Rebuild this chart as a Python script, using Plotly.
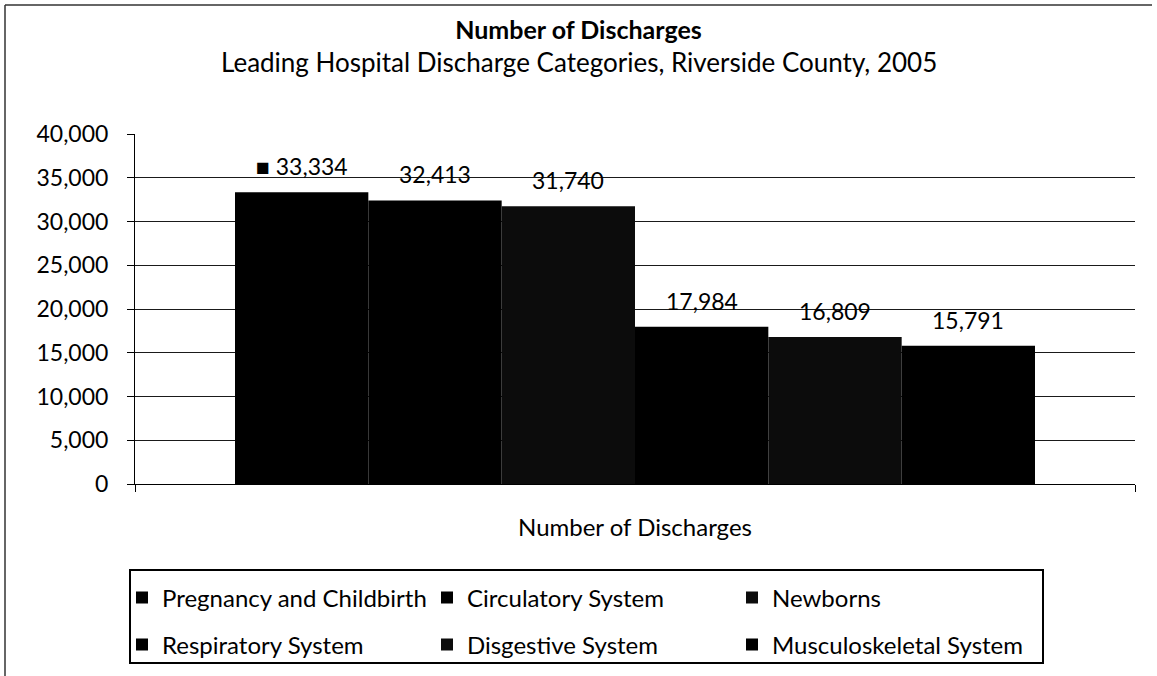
import plotly.graph_objects as go

# Data
categories = ["Number of Discharges"]
series_names = [
    "Pregnancy and Childbirth",
    "Circulatory System",
    "Newborns",
    "Respiratory System",
    "Disgestive System",
    "Musculoskeletal System",
]
discharges = [33334, 32413, 31740, 17984, 16809, 15791]
bar_colors = ["#000000", "#000000", "#0c0c0c", "#000000", "#0c0c0c", "#000000"]
y_ticks = [0, 5000, 10000, 15000, 20000, 25000, 30000, 35000, 40000]

title_text = "Number of Discharges"
subtitle_text = "Leading Hospital Discharge Categories, Riverside County, 2005"

# Page geometry (pixels)
W, H = 1157, 676
L, R, T, B = 135, 22, 134, 192
PW = W - L - R
PH = H - T - B
FONT = "Lato"
BARGAP = 0.2


def px_x(px):
    return (px - L) / PW


def px_y(py):
    return (H - B - py) / PH


fig = go.Figure()
n = len(series_names)
for i, (name, val, col) in enumerate(zip(series_names, discharges, bar_colors)):
    fig.add_trace(go.Bar(
        x=categories,
        y=[val],
        name=name,
        marker=dict(color=col, line=dict(width=0)),
        legend="legend" if i < 3 else "legend2",
        hovertemplate=name + ": %{y:,}<extra></extra>",
    ))

# Value labels above each bar (first one carries a legend key)
annotations = []
slot = (1 - BARGAP) / n
for i, val in enumerate(discharges):
    xc = -0.5 + BARGAP / 2 + (i + 0.5) * slot
    label = f"{val:,}"
    if i == 0:
        label = "\u25A0 " + label
    annotations.append(dict(
        x=xc, y=val, xref="x", yref="y", text=label, showarrow=False,
        xanchor="center", yanchor="middle", yshift=26,
        font=dict(family=FONT, size=23, color="#000"),
    ))

# Subtitle
annotations.append(dict(
    x=0.5, y=px_y(62), xref="paper", yref="paper", text=subtitle_text,
    showarrow=False, xanchor="center", yanchor="middle",
    font=dict(family=FONT, size=26, color="#000"),
    xshift=(W / 2) - (L + PW / 2),
))

shapes = [
    # outer frame (top and left edges)
    dict(type="line", xref="paper", yref="paper",
         x0=px_x(5), x1=px_x(1152), y0=px_y(5), y1=px_y(5),
         line=dict(color="#333", width=1.5)),
    dict(type="line", xref="paper", yref="paper",
         x0=px_x(5), x1=px_x(5), y0=px_y(5), y1=px_y(676),
         line=dict(color="#333", width=1.5)),
    # legend box
    dict(type="rect", xref="paper", yref="paper",
         x0=px_x(130), x1=px_x(1043), y0=px_y(570), y1=px_y(663),
         line=dict(color="#000", width=2), fillcolor="rgba(0,0,0,0)"),
]

legend_common = dict(
    orientation="h", xanchor="left", yanchor="middle",
    x=px_x(122), entrywidth=260, entrywidthmode="pixels",
    font=dict(family=FONT, size=24, color="#000"),
    bgcolor="rgba(0,0,0,0)", borderwidth=0,
)

fig.update_layout(
    width=W, height=H,
    margin=dict(l=L, r=R, t=T, b=B, autoexpand=False),
    paper_bgcolor="white", plot_bgcolor="white",
    font=dict(family=FONT, color="#000"),
    title=dict(
        text="<b>" + title_text + "</b>",
        x=0.5, xref="container", xanchor="center",
        y=1 - 30 / H, yref="container", yanchor="middle",
        font=dict(family=FONT, size=25, color="#000"),
    ),
    barmode="group", bargap=BARGAP, bargroupgap=0,
    xaxis=dict(
        type="category",
        showline=True, linecolor="#000", linewidth=1,
        ticks="outside", tickson="boundaries", ticklen=7, tickcolor="#000",
        showticklabels=False, showgrid=False,
        title=dict(text=categories[0], standoff=35,
                   font=dict(family=FONT, size=24, color="#000")),
        automargin=False,
    ),
    yaxis=dict(
        range=[0, 40000], tickvals=y_ticks, tickformat=",d",
        showline=True, linecolor="#000", linewidth=1,
        ticks="outside", ticklen=7, tickcolor="#000",
        showgrid=True, gridcolor="#1a1a1a", gridwidth=1,
        zeroline=False,
        ticklabelstandoff=14,
        tickfont=dict(family=FONT, size=23, color="#000"),
        automargin=False,
    ),
    legend=dict(legend_common, y=px_y(598)),
    legend2=dict(legend_common, y=px_y(645)),
    annotations=annotations,
    shapes=shapes,
    showlegend=True,
)

fig.write_html("out.html")
